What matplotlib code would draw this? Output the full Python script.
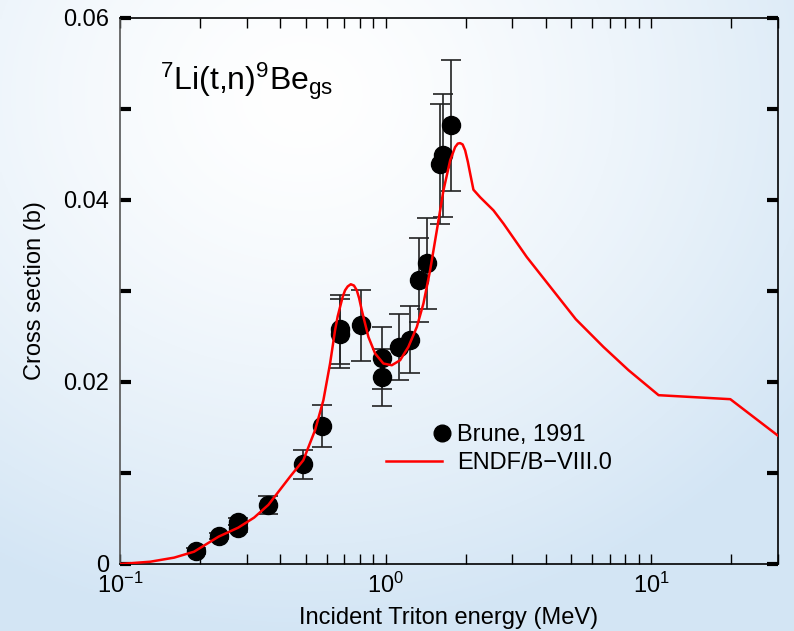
import numpy as np
import matplotlib.pyplot as plt
from matplotlib.legend_handler import HandlerLine2DCompound
from matplotlib.lines import Line2D
from matplotlib.ticker import LogLocator, NullFormatter

plt.rcParams['font.family'] = ['Liberation Sans', 'DejaVu Sans']
plt.rcParams['mathtext.fontset'] = 'custom'
plt.rcParams['mathtext.rm'] = 'Liberation Sans'
plt.rcParams['mathtext.it'] = 'Liberation Sans:italic'

# Brune, 1991 measurements (MeV, barn)
brune_e = [0.193, 0.235, 0.278, 0.278, 0.362, 0.490, 0.575, 0.674, 0.674,
           0.809, 0.968, 0.968, 1.124, 1.237, 1.337, 1.437, 1.608, 1.651, 1.765]
brune_xs = [0.00143, 0.00307, 0.00464, 0.00392, 0.00648, 0.01094, 0.01518, 0.0258, 0.0253,
            0.02623, 0.02265, 0.0205, 0.02385, 0.02466, 0.0312, 0.03304, 0.04398, 0.0449, 0.0482]
brune_err = [0.0003, 0.0003, 0.0004, 0.0004, 0.00097, 0.0016, 0.0023, 0.0038, 0.0038,
             0.0039, 0.0034, 0.0031, 0.0036, 0.0037, 0.0046, 0.005, 0.0066, 0.00675, 0.0072]

# ENDF/B-VIII.0 evaluation
endf_e = [0.1, 0.13, 0.16, 0.19, 0.235, 0.279, 0.32, 0.362, 0.437, 0.49, 0.5425, 0.5832,
          0.618, 0.6453, 0.66, 0.674, 0.69, 0.7039, 0.72, 0.7394, 0.76, 0.7789, 0.795,
          0.8135, 0.8615, 0.913, 0.981, 1.055, 1.134, 1.218, 1.311, 1.388, 1.471, 1.559,
          1.651, 1.75, 1.827, 1.87, 1.908, 1.95, 1.993, 2.04, 2.082, 2.141, 2.27, 2.547,
          2.779, 3.40, 5.2, 6.61, 8.21, 10.66, 19.85, 30.0]
endf_xs = [0.0, 0.00025, 0.0007, 0.00135, 0.0030, 0.0040, 0.0051, 0.0065, 0.0096, 0.0114,
           0.0147, 0.0180, 0.02203, 0.02569, 0.0272, 0.02825, 0.0294, 0.03008, 0.0305,
           0.03074, 0.0306, 0.03008, 0.0292, 0.02788, 0.02495, 0.02313, 0.02203, 0.02184,
           0.02239, 0.02385, 0.02605, 0.02862, 0.03227, 0.03666, 0.04105, 0.04435, 0.04581,
           0.0462, 0.04625, 0.0461, 0.04545, 0.0442, 0.04289, 0.04113, 0.0403, 0.03886,
           0.0374, 0.03373, 0.0269, 0.02385, 0.0213, 0.01855, 0.01811, 0.0141]

fig = plt.figure(figsize=(7.94, 6.31), dpi=100)

# soft blue background
bg = fig.add_axes([0, 0, 1, 1], zorder=-10)
yy, xx = np.mgrid[0:1:300j, 0:1:300j]
d = np.clip(np.hypot((xx - 0.38) * 1.1, (yy - 0.15) * 1.0) / 0.85, 0, 1) ** 1.4
white = np.array([1.0, 1.0, 1.0])
blue = np.array([0.83, 0.9, 0.96])
img = white[None, None, :] * (1 - d[..., None]) + blue[None, None, :] * d[..., None]
bg.imshow(img, aspect='auto', extent=[0, 1, 0, 1])
bg.axis('off')

ax = fig.add_axes([0.1511, 0.1062, 0.8287, 0.8653])
ax.set_facecolor('none')

ax.errorbar(brune_e, brune_xs, yerr=brune_err, fmt='o', color='black', ms=13,
            ecolor='#222222', elinewidth=1.2, capsize=7, capthick=1.2, zorder=3)
ax.plot(endf_e, endf_xs, color='red', lw=1.8, zorder=4)

ax.set_xscale('log')
ax.set_xlim(0.1, 30)
ax.set_ylim(0, 0.06)
ax.set_yticks([0, 0.02, 0.04, 0.06])
ax.set_yticklabels(['0', '0.02', '0.04', '0.06'])
ax.set_yticks([0.01, 0.03, 0.05], minor=True)
ax.xaxis.set_minor_locator(LogLocator(base=10, subs=np.arange(2, 10)))
ax.xaxis.set_minor_formatter(NullFormatter())

ax.tick_params(axis='y', which='both', direction='in', length=8, width=3,
               right=True, labelsize=17, pad=8)
ax.tick_params(axis='x', which='both', direction='in', length=7, width=1,
               top=True, labelsize=17, pad=6)
for s in ['bottom', 'top', 'right']:
    ax.spines[s].set_linewidth(1.2)
ax.spines['left'].set_color('#555555')
ax.spines['left'].set_linewidth(1.2)

ax.set_xlabel('Incident Triton energy (MeV)', fontsize=17, labelpad=7)
ax.set_ylabel('Cross section (b)', fontsize=17, labelpad=12)

ax.text(0.061, 0.868, r'$^{7}$Li(t,n)$^{9}$Be$_{\mathrm{gs}}$',
        transform=ax.transAxes, fontsize=23, va='baseline', ha='left')


class EndMarker(HandlerLine2DCompound):
    def get_xdata(self, legend, xdescent, ydescent, width, height, fontsize):
        xdata = np.array([-xdescent, -xdescent + width])
        return xdata, np.array([-xdescent + width])


h_data = Line2D([], [], ls='none', marker='o', color='black', ms=12)
h_endf = Line2D([], [], color='red', lw=1.8)
ax.legend([h_data, h_endf], ['Brune, 1991', 'ENDF/B\u2212VIII.0'],
          handler_map={h_data: EndMarker()},
          loc='center left', bbox_to_anchor=(0.404, 0.2106), frameon=False,
          fontsize=17, handlelength=2.4, handletextpad=0.6, borderpad=0,
          borderaxespad=0, labelspacing=0.25)

fig.savefig('out.png', dpi=100)
